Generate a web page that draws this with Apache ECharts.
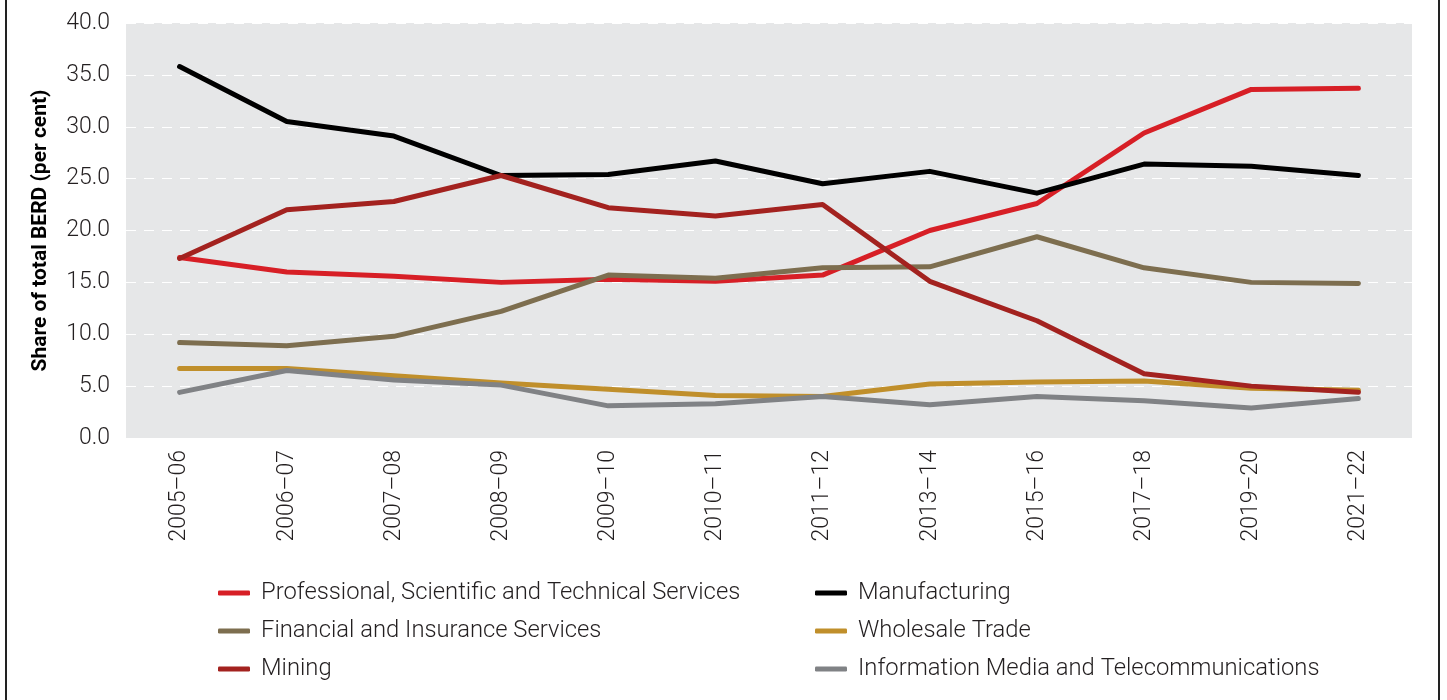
<!DOCTYPE html>
<html>
<head>
<meta charset="utf-8">
<script src="https://cdn.jsdelivr.net/npm/echarts@6/dist/echarts.min.js"></script>
<style>
  html, body { margin: 0; padding: 0; background: #fff; }
  #chart { width: 1447px; height: 700px; }
  .frame { position: absolute; top: 0; bottom: 0; width: 2px; background: #222; }
</style>
</head>
<body>
<div class="frame" style="left:5px;"></div>
<div class="frame" style="left:1438px;"></div>
<div id="chart"></div>
<script>
var years = ["2005–06", "2006–07", "2007–08", "2008–09", "2009–10", "2010–11",
  "2011–12", "2013–14", "2015–16", "2017–18", "2019–20", "2021–22"];

var professional = [17.4, 16.0, 15.6, 15.0, 15.3, 15.1, 15.7, 20.0, 22.6, 29.4, 33.6, 33.7];
var manufacturing = [35.8, 30.5, 29.1, 25.3, 25.4, 26.7, 24.5, 25.7, 23.6, 26.4, 26.2, 25.3];
var financial = [9.2, 8.9, 9.8, 12.2, 15.7, 15.4, 16.4, 16.5, 19.4, 16.4, 15.0, 14.9];
var wholesale = [6.7, 6.7, 6.0, 5.3, 4.7, 4.1, 4.0, 5.2, 5.4, 5.5, 4.8, 4.6];
var mining = [17.3, 22.0, 22.8, 25.3, 22.2, 21.4, 22.5, 15.1, 11.3, 6.2, 5.0, 4.4];
var infoMedia = [4.4, 6.5, 5.6, 5.1, 3.1, 3.3, 4.0, 3.2, 4.0, 3.6, 2.9, 3.8];

var font = "Roboto, sans-serif";
var textColor = "#231f20";

var myChart = echarts.init(document.getElementById("chart"));

function line(name, data, color) {
  return {
    name: name,
    type: "line",
    data: data,
    symbol: "none",
    lineStyle: { width: 5, color: color, cap: "round", join: "round" },
    itemStyle: { color: color }
  };
}

var legendBase = {
  orient: "vertical",
  top: 576,
  itemWidth: 32,
  itemHeight: 5,
  itemGap: 14,
  icon: "roundRect",
  textStyle: { fontFamily: font, fontSize: 23.8, color: textColor, fontWeight: 300, padding: [0, 0, 0, 6] }
};

myChart.setOption({
  animation: false,
  grid: { left: 126, right: 35, top: 23, bottom: 262, backgroundColor: "#e6e7e8", show: true, borderWidth: 0 },
  legend: [
    Object.assign({ left: 213, data: ["Professional, Scientific and Technical Services", "Financial and Insurance Services", "Mining"] }, legendBase),
    Object.assign({ left: 810, data: ["Manufacturing", "Wholesale Trade", "Information Media and Telecommunications"] }, legendBase)
  ],
  xAxis: {
    type: "category",
    data: years,
    boundaryGap: true,
    axisLine: { show: false },
    axisTick: { show: false },
    axisLabel: { rotate: 90, margin: 12, fontFamily: font, fontSize: 23, fontWeight: 300, color: textColor }
  },
  yAxis: {
    type: "value",
    min: 0,
    max: 40,
    interval: 5,
    name: "Share of total BERD (per cent)",
    nameLocation: "middle",
    nameGap: 75,
    nameTextStyle: { fontFamily: font, fontSize: 21, fontWeight: "bold", color: "#000" },
    axisLine: { show: false },
    axisTick: { show: false },
    axisLabel: {
      margin: 16,
      fontFamily: font,
      fontSize: 23,
      fontWeight: 300,
      color: textColor,
      formatter: function (v) { return v.toFixed(1); }
    },
    splitLine: { lineStyle: { color: "#ffffff", type: [10, 8], width: 1 } }
  },
  series: [
    line("Professional, Scientific and Technical Services", professional, "#d71f26"),
    line("Manufacturing", manufacturing, "#000000"),
    line("Financial and Insurance Services", financial, "#7d6e4f"),
    line("Wholesale Trade", wholesale, "#c08f2b"),
    line("Mining", mining, "#a3221f"),
    line("Information Media and Telecommunications", infoMedia, "#808285")
  ]
});
</script>
</body>
</html>
